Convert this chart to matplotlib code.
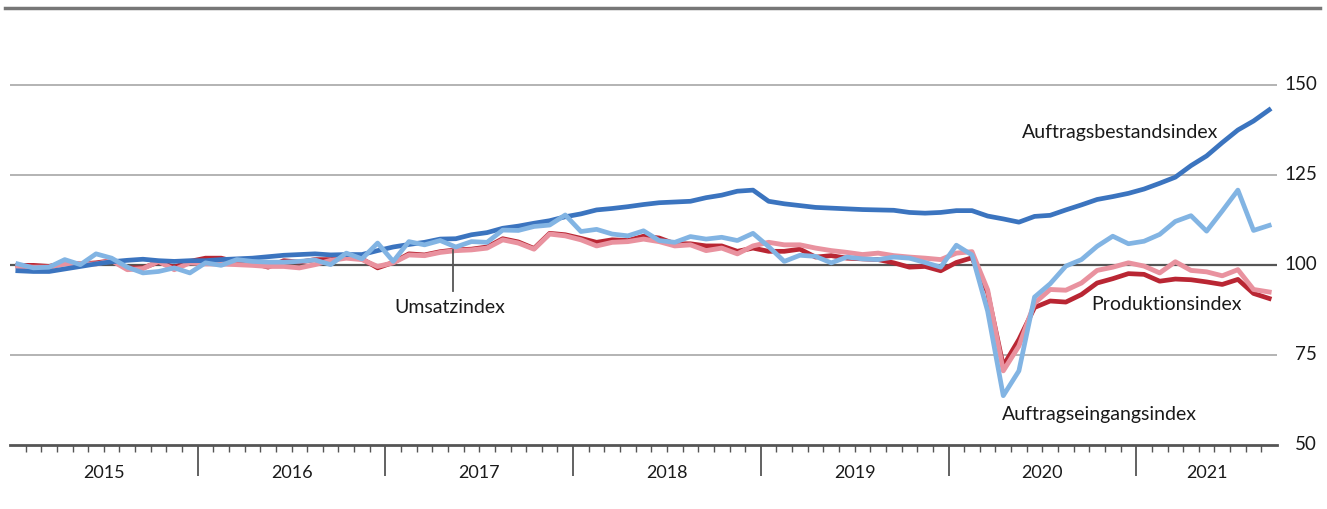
import matplotlib
matplotlib.use('Agg')
import matplotlib.pyplot as plt
from matplotlib.lines import Line2D
from matplotlib.transforms import blended_transform_factory

# Monthly index values, Jan 2015 - Sep 2021
years = ['2015', '2016', '2017', '2018', '2019', '2020', '2021']

auftragsbestand = [
  98.4, 98.2, 98.2, 98.9, 99.6, 100.3, 100.9, 101.3, 101.6, 101.2, 101.0, 101.2,
  101.2, 101.5, 101.7, 101.9, 102.3, 102.7, 102.9, 103.1, 102.8, 102.9, 102.9, 104.0,
  105.0, 105.7, 106.3, 107.2, 107.3, 108.4, 109.0, 110.2, 110.8, 111.6, 112.3, 113.4,
  114.2, 115.3, 115.7, 116.2, 116.8, 117.3, 117.5, 117.7, 118.7, 119.4, 120.5, 120.8,
  117.7, 117.0, 116.5, 116.0, 115.8, 115.6, 115.4, 115.3, 115.2, 114.6, 114.4, 114.6,
  115.1, 115.1, 113.6, 112.8, 111.9, 113.5, 113.8, 115.3, 116.7, 118.2, 119.0, 119.9,
  121.1, 122.7, 124.4, 127.6, 130.3, 134.0, 137.5, 140.0, 143.1]

auftragseingang = [
  100.3, 99.2, 99.4, 101.5, 100.1, 103.1, 101.9, 99.4, 97.8, 98.2, 99.2, 97.8,
  100.6, 99.9, 101.5, 101.0, 100.8, 100.8, 101.0, 101.4, 100.1, 103.3, 101.7, 106.1,
  101.0, 106.5, 105.6, 106.8, 105.0, 106.5, 106.3, 109.7, 109.6, 110.7, 111.1, 113.9,
  109.3, 109.9, 108.6, 108.1, 109.5, 106.8, 106.3, 107.9, 107.2, 107.7, 106.8, 108.8,
  105.1, 101.0, 102.7, 102.4, 100.6, 102.2, 101.7, 101.5, 102.2, 101.9, 100.7, 99.4,
  105.5, 102.8, 87.2, 63.7, 70.6, 91.1, 94.8, 99.7, 101.5, 105.2, 108.0, 105.9,
  106.6, 108.5, 112.1, 113.7, 109.4, 115.0, 120.8, 109.6, 111.0]

umsatz = [
  99.6, 99.4, 99.4, 100.3, 100.3, 100.3, 101.2, 98.7, 99.0, 101.0, 98.7, 100.6,
  100.3, 100.3, 100.1, 99.9, 99.6, 99.6, 99.2, 100.1, 101.3, 101.9, 101.5, 99.6,
  100.6, 102.8, 102.6, 103.5, 104.0, 104.2, 104.7, 107.0, 106.1, 104.4, 108.6, 108.1,
  107.0, 105.3, 106.3, 106.5, 107.2, 106.5, 105.3, 105.6, 104.0, 104.7, 103.1, 105.3,
  106.3, 105.6, 105.6, 104.7, 104.0, 103.5, 102.9, 103.3, 102.6, 102.2, 101.9, 101.5,
  103.3, 103.7, 93.1, 70.6, 77.5, 89.4, 93.2, 93.0, 95.0, 98.5, 99.4, 100.6,
  99.7, 97.8, 100.9, 98.5, 98.1, 97.0, 98.7, 93.2, 92.5]

produktion = [
  99.9, 99.9, 99.6, 100.6, 100.3, 100.6, 101.2, 99.2, 99.2, 100.8, 99.4, 101.0,
  101.9, 101.9, 100.8, 100.6, 99.4, 101.2, 100.8, 101.5, 101.5, 102.2, 101.7, 99.2,
  100.7, 103.1, 102.8, 103.7, 104.2, 104.4, 105.0, 107.3, 106.4, 104.6, 108.8, 108.4,
  107.4, 106.3, 107.0, 106.8, 108.0, 107.5, 105.9, 105.9, 105.3, 105.3, 103.8, 104.7,
  103.8, 103.8, 104.4, 102.2, 102.6, 101.9, 101.7, 101.5, 100.6, 99.4, 99.6, 98.4,
  100.7, 102.0, 92.4, 72.0, 79.3, 88.2, 90.0, 89.7, 91.8, 95.0, 96.2, 97.6,
  97.4, 95.5, 96.1, 95.9, 95.3, 94.6, 96.0, 92.1, 90.7]

yticks = [50, 75, 100, 125, 150]

plt.rcParams['font.family'] = ['Lato', 'DejaVu Sans']

# Figure setup, one point per month centred in its month slot
W, H = 1327, 509
figure = plt.figure(figsize=(W / 100, H / 100), dpi=100)
ax = figure.add_axes([10 / W, (H - 445) / H, 1267 / W, 437 / H])
n = len(auftragsbestand)
x = [i + 0.5 for i in range(n)]

ax.set_xlim(0, n)
ax.set_ylim(50, 50 + 437 / 3.6)

# Gridlines
for v in [75, 125, 150]:
  ax.axhline(v, color='#b3b3b3', lw=1.4, zorder=1)
ax.axhline(100, color='#555555', lw=1.6, zorder=1)

# Series
ax.plot(x, produktion, color='#b92633', lw=3.4, solid_joinstyle='round', zorder=3)
ax.plot(x, umsatz, color='#e9929f', lw=3.5, solid_joinstyle='round', zorder=4)
ax.plot(x, auftragsbestand, color='#3b74bf', lw=3.4, solid_joinstyle='round', zorder=5)
ax.plot(x, auftragseingang, color='#82b4e3', lw=3.4, solid_joinstyle='round', zorder=6)

# Spines and ticks
for side in ['top', 'left', 'right']:
  ax.spines[side].set_visible(False)
ax.spines['bottom'].set_color('#555555')
ax.spines['bottom'].set_linewidth(2)
ax.set_yticks([])
major = [12 * k for k in range(1, len(years))]
minor = [m for m in range(1, n) if m % 12 != 0]
ax.set_xticks(major)
ax.set_xticks(minor, minor=True)
ax.set_xticklabels([])
ax.tick_params(axis='x', which='major', direction='out', length=22, width=1.3, color='#555555')
ax.tick_params(axis='x', which='minor', direction='out', length=5, width=1.0, color='#555555')

# Year labels centred within each year
trans = blended_transform_factory(ax.transData, ax.transAxes)
for k, year in enumerate(years):
  start = 12 * k
  end = min(start + 12, n)
  ax.text((start + end) / 2, -0.045, year, transform=trans, ha='center', va='top',
          fontsize=13, color='#1a1a1a')

# Value labels on the right
trans_y = blended_transform_factory(ax.transAxes, ax.transData)
for v in yticks:
  ax.text(1307 / 1267, v, str(v), transform=trans_y, ha='right', va='center',
          fontsize=13.5, color='#1a1a1a')

# Series labels
ax.text(64.7, 136.7, 'Auftragsbestandsindex', ha='left', va='center', fontsize=14, color='#1a1a1a')
ax.text(69.1, 89.1, 'Produktionsindex', ha='left', va='center', fontsize=14, color='#1a1a1a')
ax.text(63.4, 58.4, 'Auftragseingangsindex', ha='left', va='center', fontsize=14, color='#1a1a1a')
ax.text(24.6, 88.3, 'Umsatzindex', ha='left', va='center', fontsize=14, color='#1a1a1a')
ax.plot([28.3, 28.3], [104.1, 92.7], color='#555555', lw=1.3, zorder=7)

# Top rule across the figure
figure.add_artist(Line2D([5 / W, 1320 / W], [(H - 8) / H, (H - 8) / H],
                         color='#777777', lw=2.5, transform=figure.transFigure))

plt.savefig('out.png', dpi=100)
plt.close()
